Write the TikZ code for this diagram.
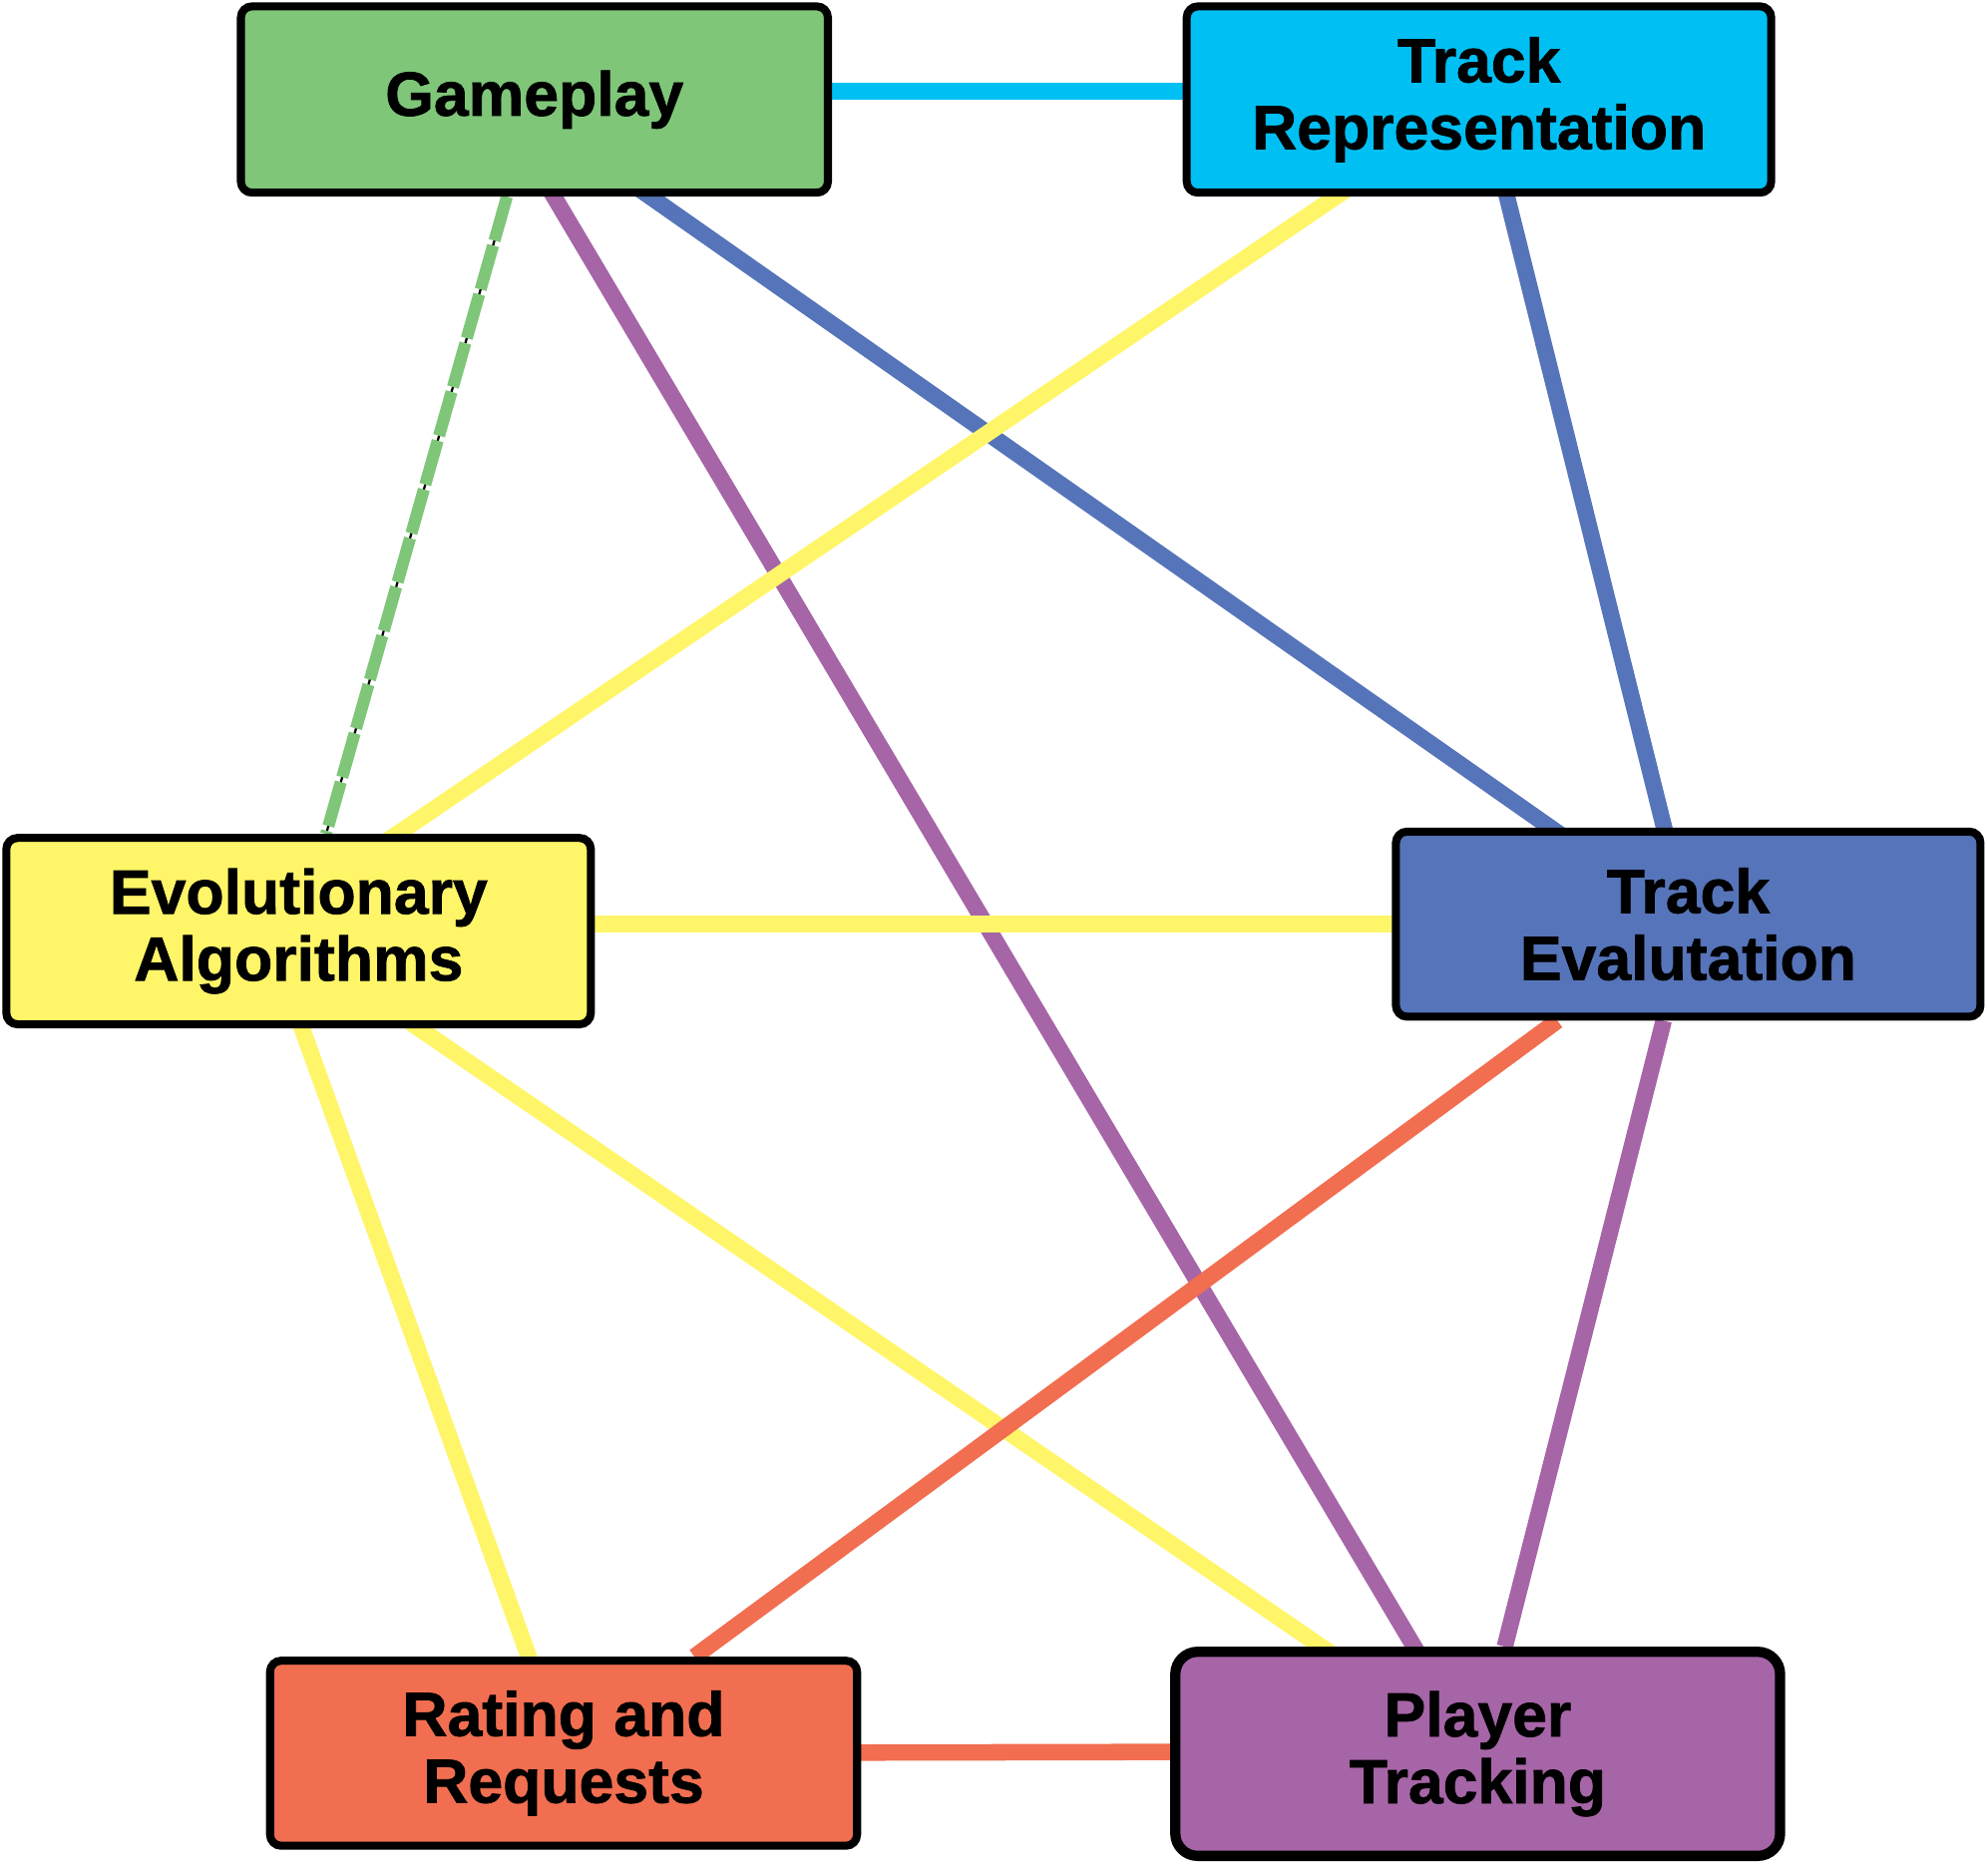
\documentclass[tikz,border=0pt]{standalone}
\usepackage{fontspec}
\setmainfont{Liberation Sans}[BoldFeatures={FakeBold=1.2}]
\usetikzlibrary{positioning,backgrounds}
\definecolor{gpgreen}{RGB}{127,198,121}
\definecolor{trcyan}{RGB}{0,191,243}
\definecolor{eayellow}{RGB}{255,245,104}
\definecolor{teblue}{RGB}{86,116,185}
\definecolor{rrred}{RGB}{241,110,80}
\definecolor{ptpurple}{RGB}{166,101,167}

\begin{document}
\begin{tikzpicture}[
  box/.style={draw=black,line width=1.8pt,rounded corners=2.5pt,inner sep=0pt,
    minimum width=4.61cm,minimum height=1.47cm,align=center,
    font=\fontsize{14}{15}\selectfont\bfseries},
  link/.style={line width=3.7pt},
  dashlink/.style={line width=2.7pt,dash pattern=on 0.36cm off 0.04cm,
    preaction={draw,solid,line width=0.5pt}}]
  \useasboundingbox (0,0) rectangle (15.68,-14.71);
  \node[box,fill=gpgreen,minimum width=4.63cm] (gp) at (4.215,-0.785) {Gameplay};
  \node[box,fill=trcyan] (tr) at (11.665,-0.785) {Track\\Representation};
  \node[box,fill=eayellow] (ea) at (2.355,-7.345) {Evolutionary\\Algorithms};
  \node[box,fill=teblue,minimum height=1.46cm] (te) at (13.315,-7.29) {Track\\Evalutation};
  \node[box,fill=rrred,minimum width=4.63cm,minimum height=1.46cm] (rr) at (4.445,-13.83) {Rating and\\Requests};
  \node[box,fill=ptpurple,line width=2.3pt,rounded corners=5pt,minimum width=4.77cm,minimum height=1.61cm] (pt) at (11.655,-13.835) {Player\\Tracking};
  \begin{scope}[on background layer]
    \draw[link,teblue] ([xshift=-0.18cm]gp.center) -- (te.center);
    \draw[link,teblue] ([xshift=0.03cm]tr.center) -- (te.center);
    \draw[link,ptpurple] ([xshift=-0.3cm]gp.center) -- (pt.center);
    \draw[link,ptpurple] (te) -- (pt);
    \draw[dashlink,gpgreen] (gp) -- (ea);
    \draw[link,trcyan] ([yshift=0.065cm]gp.east) -- ([yshift=0.065cm]tr.west);
    \draw[link,eayellow] (tr.center) -- ([xshift=-0.35cm]ea.center);
    \draw[link,eayellow] (ea.east |- te.west) -- (te.west);
    \draw[link,eayellow] ([xshift=-0.25cm]ea.center) -- (rr.center);
    \draw[link,eayellow] ([xshift=-0.17cm]ea.center) -- (pt.center);
    \draw[link,rrred] (te) -- (rr);
    \draw[link,rrred] (rr.center) -- ([yshift=0.02cm]pt.center);
  \end{scope}
\end{tikzpicture}
\end{document}
